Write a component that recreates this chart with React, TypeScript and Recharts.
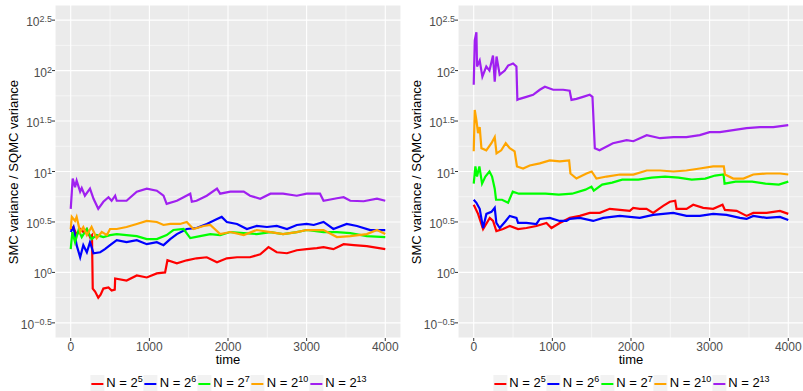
import React from 'react'
import { LineChart, Line, XAxis, YAxis, CartesianGrid } from 'recharts'

// [time, log10(SMC variance / SQMC variance)]
type Pt = [number, number]

const exponents = ['5', '6', '7', '10', '13']
const colors = ['#FF0000', '#0000FF', '#00FF00', '#FFA500', '#A020F0']

const xTicks = [0, 1000, 2000, 3000, 4000]
const xMinor = [500, 1500, 2500, 3500]
const yTicks = [-0.5, 0, 0.5, 1, 1.5, 2, 2.5]
const yMinor = [-0.25, 0.25, 0.75, 1.25, 1.75, 2.25]

// left panel
const leftN5: Pt[] = [
    [0, 0.42], [35, 0.45], [75, 0.37], [120, 0.43], [160, 0.4], [205, 0.43], [245, 0.35], [270, 0.37],
    [280, -0.16], [310, -0.19], [350, -0.25], [380, -0.22], [415, -0.16], [480, -0.15], [520, -0.18], [560, -0.17],
    [565, -0.06], [710, -0.08], [840, -0.03], [967, -0.05], [1095, -0.01], [1200, 0.0], [1230, 0.12], [1350, 0.09],
    [1475, 0.12], [1600, 0.14], [1730, 0.15], [1860, 0.1], [1985, 0.14], [2115, 0.15], [2280, 0.15], [2410, 0.18],
    [2515, 0.25], [2620, 0.2], [2750, 0.19], [2875, 0.22], [3000, 0.23], [3130, 0.24], [3215, 0.25], [3340, 0.23],
    [3470, 0.28], [3600, 0.27], [3765, 0.26], [4000, 0.23],
]
const leftN6: Pt[] = [
    [0, 0.4], [35, 0.45], [75, 0.27], [120, 0.15], [160, 0.27], [205, 0.2], [245, 0.3], [290, 0.19],
    [375, 0.2], [435, 0.23], [500, 0.27], [585, 0.32], [710, 0.3], [840, 0.32], [967, 0.28], [1095, 0.3],
    [1180, 0.27], [1265, 0.33], [1350, 0.38], [1475, 0.43], [1600, 0.44], [1730, 0.48], [1860, 0.53], [1920, 0.55],
    [1985, 0.5], [2115, 0.48], [2240, 0.43], [2365, 0.46], [2495, 0.45], [2620, 0.46], [2750, 0.43], [2875, 0.47],
    [3000, 0.48], [3090, 0.47], [3215, 0.5], [3340, 0.43], [3510, 0.48], [3640, 0.46], [3810, 0.42], [4000, 0.42],
]
const leftN7: Pt[] = [
    [0, 0.23], [20, 0.4], [55, 0.3], [100, 0.42], [140, 0.35], [205, 0.43], [265, 0.33], [330, 0.37],
    [415, 0.35], [500, 0.37], [585, 0.38], [710, 0.37], [840, 0.36], [967, 0.33], [1095, 0.33], [1220, 0.37],
    [1305, 0.42], [1435, 0.43], [1520, 0.34], [1645, 0.36], [1775, 0.38], [1900, 0.37], [2030, 0.4], [2200, 0.39],
    [2365, 0.38], [2540, 0.4], [2700, 0.38], [2875, 0.4], [3000, 0.42], [3215, 0.4], [3385, 0.4], [3555, 0.39],
    [3765, 0.36], [4000, 0.35],
]
const leftN10: Pt[] = [
    [0, 0.43], [13, 0.55], [55, 0.51], [75, 0.55], [120, 0.4], [160, 0.45], [205, 0.37], [265, 0.45],
    [330, 0.34], [395, 0.4], [460, 0.37], [500, 0.43], [585, 0.43], [710, 0.45], [840, 0.48], [967, 0.51],
    [1095, 0.5], [1180, 0.47], [1265, 0.48], [1390, 0.48], [1475, 0.5], [1560, 0.43], [1690, 0.46], [1775, 0.47],
    [1900, 0.38], [2030, 0.4], [2200, 0.37], [2365, 0.42], [2540, 0.4], [2700, 0.38], [2875, 0.4], [3000, 0.42],
    [3215, 0.42], [3385, 0.35], [3555, 0.36], [3765, 0.38], [3895, 0.42], [4000, 0.38],
]
const leftN13: Pt[] = [
    [0, 0.63], [25, 0.93], [55, 0.845], [75, 0.91], [120, 0.8], [140, 0.835], [180, 0.76], [245, 0.83],
    [290, 0.73], [350, 0.63], [415, 0.7], [480, 0.745], [520, 0.71], [565, 0.76], [585, 0.71], [710, 0.71],
    [840, 0.8], [967, 0.83], [1095, 0.81], [1180, 0.76], [1220, 0.68], [1350, 0.71], [1435, 0.745], [1520, 0.78],
    [1540, 0.7], [1600, 0.71], [1730, 0.76], [1860, 0.83], [1900, 0.78], [2030, 0.8], [2200, 0.8], [2280, 0.76],
    [2410, 0.73], [2540, 0.78], [2700, 0.78], [2875, 0.76], [3000, 0.78], [3170, 0.78], [3215, 0.71], [3385, 0.735],
    [3470, 0.745], [3555, 0.71], [3725, 0.705], [3895, 0.73], [4000, 0.71],
]

// right panel
const rightN5: Pt[] = [
    [0, 0.67], [55, 0.58], [119, 0.43], [204, 0.54], [246, 0.51], [288, 0.41], [373, 0.43], [458, 0.46],
    [564, 0.43], [670, 0.44], [797, 0.46], [925, 0.49], [988, 0.44], [1094, 0.49], [1222, 0.54], [1349, 0.56],
    [1476, 0.59], [1603, 0.59], [1730, 0.63], [1858, 0.62], [1985, 0.61], [2028, 0.64], [2112, 0.63], [2197, 0.63],
    [2282, 0.59], [2409, 0.66], [2494, 0.7], [2562, 0.71], [2579, 0.63], [2706, 0.63], [2791, 0.67], [2918, 0.64],
    [3045, 0.63], [3164, 0.67], [3194, 0.62], [3343, 0.61], [3470, 0.56], [3555, 0.59], [3725, 0.59], [3894, 0.61],
    [4000, 0.58],
]
const rightN6: Pt[] = [
    [0, 0.72], [34, 0.69], [76, 0.63], [119, 0.44], [161, 0.58], [225, 0.6], [267, 0.64], [288, 0.49],
    [331, 0.44], [407, 0.51], [458, 0.56], [543, 0.54], [564, 0.49], [670, 0.49], [797, 0.48], [840, 0.53],
    [967, 0.54], [1094, 0.51], [1180, 0.51], [1222, 0.53], [1349, 0.54], [1519, 0.51], [1646, 0.54], [1858, 0.56],
    [2112, 0.54], [2282, 0.57], [2537, 0.59], [2706, 0.56], [2876, 0.56], [3045, 0.58], [3215, 0.57], [3385, 0.54],
    [3470, 0.53], [3555, 0.56], [3725, 0.54], [3894, 0.55], [4000, 0.52],
]
const rightN7: Pt[] = [
    [0, 0.88], [21, 1.05], [42, 0.95], [72, 1.05], [106, 0.88], [148, 0.95], [200, 1.0], [233, 0.95],
    [267, 0.83], [284, 0.72], [360, 0.72], [437, 0.69], [496, 0.8], [573, 0.78], [742, 0.78], [912, 0.78],
    [1082, 0.77], [1251, 0.78], [1421, 0.82], [1497, 0.85], [1527, 0.81], [1633, 0.87], [1760, 0.89], [1888, 0.92],
    [2093, 0.92], [2263, 0.94], [2433, 0.95], [2603, 0.94], [2773, 0.92], [2943, 0.93], [3070, 0.96], [3177, 0.97],
    [3190, 0.88], [3330, 0.9], [3540, 0.9], [3710, 0.88], [3880, 0.87], [4000, 0.9],
]
const rightN10: Pt[] = [
    [0, 1.2], [13, 1.61], [34, 1.51], [55, 1.38], [76, 1.44], [98, 1.23], [160, 1.21], [225, 1.28],
    [267, 1.34], [290, 1.18], [350, 1.21], [407, 1.28], [458, 1.23], [520, 1.2], [550, 1.05], [628, 1.03],
    [712, 1.06], [840, 1.08], [967, 1.11], [1094, 1.1], [1213, 1.11], [1230, 0.98], [1306, 0.93], [1434, 0.98],
    [1500, 1.0], [1560, 0.93], [1690, 0.95], [1860, 0.97], [2030, 0.97], [2200, 1.01], [2370, 1.01], [2540, 1.0],
    [2705, 1.01], [2875, 1.03], [3045, 1.05], [3180, 1.05], [3195, 0.97], [3300, 0.93], [3430, 0.93], [3555, 0.97],
    [3725, 0.98], [3895, 0.98], [4000, 0.97],
]
const rightN13: Pt[] = [
    [0, 1.86], [13, 2.3], [34, 2.38], [42, 2.04], [76, 2.1], [110, 1.94], [160, 2.04], [200, 2.0],
    [245, 2.15], [267, 1.89], [290, 2.14], [330, 1.96], [395, 2.0], [437, 2.05], [500, 2.07], [543, 2.04],
    [555, 1.71], [585, 1.72], [670, 1.74], [755, 1.76], [840, 1.81], [905, 1.84], [1010, 1.81], [1137, 1.81],
    [1220, 1.8], [1243, 1.71], [1306, 1.72], [1390, 1.74], [1475, 1.76], [1510, 1.74], [1540, 1.23], [1600, 1.21],
    [1770, 1.28], [1945, 1.31], [2030, 1.3], [2200, 1.36], [2370, 1.33], [2540, 1.34], [2705, 1.34], [2875, 1.36],
    [3000, 1.39], [3130, 1.39], [3300, 1.41], [3470, 1.43], [3640, 1.44], [3810, 1.44], [4000, 1.46],
]

const leftSeries = [leftN5, leftN6, leftN7, leftN10, leftN13]
const rightSeries = [rightN5, rightN6, rightN7, rightN10, rightN13]

const toRows = (pts: Pt[]) => pts.map(([t, v]) => ({ t, v }))

function LogTick(props: any) {
    const { x, y, payload } = props
    const v = payload.value
    const exp = v < 0 ? '\u2212' + Math.abs(v) : String(v)
    return (
        <text x={x} y={y} textAnchor="end" fill="#4D4D4D" fontSize={12}>
            <tspan dy={6}>10</tspan>
            <tspan dy={-4} fontSize={9}>{exp}</tspan>
        </text>
    )
}

function Panel({ series, left }: { series: Pt[][]; left: number }) {
    return (
        <>
            <div style={{ position: 'absolute', left, top: 0 }}>
                <LineChart width={401} height={362} margin={{ top: 5, right: 0, bottom: 10, left: 0 }}>
                    <CartesianGrid fill="#EBEBEB" stroke="#FFFFFF" strokeWidth={0.55} horizontalValues={yMinor} verticalValues={xMinor} />
                    <CartesianGrid stroke="#FFFFFF" strokeWidth={1.1} />
                    <XAxis
                        dataKey="t"
                        type="number"
                        domain={[-200, 4200]}
                        ticks={xTicks}
                        allowDataOverflow
                        axisLine={false}
                        tickSize={3}
                        tickMargin={1}
                        tickLine={{ stroke: '#333333' }}
                        tick={{ fill: '#4D4D4D', fontSize: 12 }}
                        height={14}
                    />
                    <YAxis
                        type="number"
                        domain={[-0.65, 2.65]}
                        ticks={yTicks}
                        allowDataOverflow
                        axisLine={false}
                        tickSize={3}
                        tickMargin={0}
                        tickLine={{ stroke: '#333333' }}
                        tick={<LogTick />}
                        width={55}
                    />
                    {series.map((s, i) => (
                        <Line
                            key={i}
                            data={toRows(s)}
                            dataKey="v"
                            type="linear"
                            stroke={colors[i]}
                            strokeWidth={2.2}
                            dot={false}
                            isAnimationActive={false}
                        />
                    ))}
                </LineChart>
            </div>
            <div style={{ position: 'absolute', left: left + 55, top: 352, width: 346, textAlign: 'center', fontSize: 13, lineHeight: '16px' }}>
                time
            </div>
            <div
                style={{
                    position: 'absolute',
                    left: left + 14 - 130,
                    top: 171.5 - 8,
                    width: 260,
                    height: 16,
                    lineHeight: '16px',
                    textAlign: 'center',
                    fontSize: 13,
                    transform: 'rotate(-90deg)',
                }}
            >
                SMC variance / SQMC variance
            </div>
            <div
                style={{
                    position: 'absolute',
                    left: left + 229,
                    top: 374,
                    transform: 'translateX(-50%)',
                    display: 'flex',
                    alignItems: 'center',
                    whiteSpace: 'nowrap',
                    fontSize: 13,
                    lineHeight: '17px',
                }}
            >
                {exponents.map((e, i) => (
                    <div key={e} style={{ display: 'flex', alignItems: 'center', marginRight: 1 }}>
                        <div style={{ width: 14, height: 17, background: '#F2F2F2', display: 'flex', alignItems: 'center', justifyContent: 'center', marginRight: 2 }}>
                            <div style={{ width: 12, height: 2, background: colors[i] }} />
                        </div>
                        <span>
                            N = 2<span style={{ fontSize: 9, position: 'relative', top: -5 }}>{e}</span>
                        </span>
                    </div>
                ))}
            </div>
        </>
    )
}

export default function App() {
    return (
        <div
            style={{
                position: 'absolute',
                left: 0,
                top: 0,
                width: 803,
                height: 391,
                overflow: 'hidden',
                background: '#FFFFFF',
                fontFamily: '"Liberation Sans", Arial, sans-serif',
                color: '#000000',
            }}
        >
            <Panel series={leftSeries} left={0} />
            <Panel series={rightSeries} left={403} />
        </div>
    )
}
